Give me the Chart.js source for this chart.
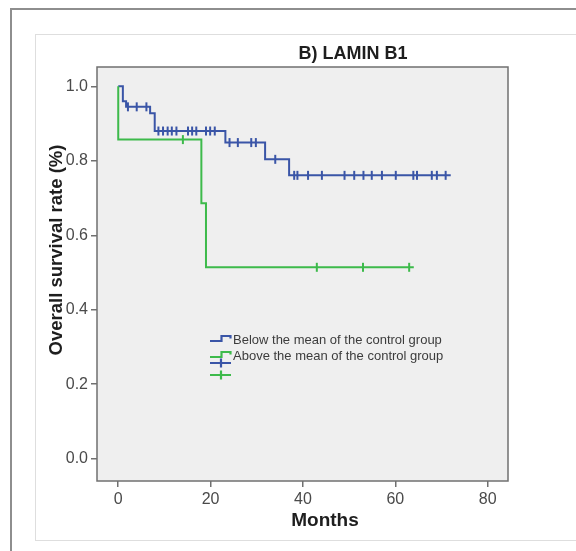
<!DOCTYPE html>
<html>
<head>
<meta charset="utf-8">
<script src="https://cdn.jsdelivr.net/npm/chart.js@4.4.1/dist/chart.umd.min.js"></script>
<style>
html,body{margin:0;padding:0;background:#fff;overflow:hidden}
#frame{position:absolute;left:10px;top:8px;width:700px;height:700px;border-left:2px solid #8e8e8e;border-top:2px solid #8e8e8e}
#panel{position:absolute;left:35px;top:34px;width:700px;height:505px;border:1px solid #dedede;background:#fff}
canvas{position:absolute;left:0;top:0}
</style>
</head>
<body>
<div id="frame"></div>
<div id="panel"></div>
<canvas id="km" width="576" height="551"></canvas>
<script>
// chart texts
const chartTitle = 'B) LAMIN B1';
const xTitle = 'Months';
const yTitle = 'Overall survival rate (%)';
const groupNames = ['Below the mean of the control group', 'Above the mean of the control group'];
const xTicks = [0, 20, 40, 60, 80];
const yTicks = [0, 0.2, 0.4, 0.6, 0.8, 1.0];

// Kaplan-Meier steps (time in months, survival)
const belowTimes = [0, 1, 1.7, 6.9, 7.9, 23.2, 31.8, 37, 72];
const belowSurv  = [1.0, 0.96, 0.945, 0.928, 0.88, 0.849, 0.804, 0.761, 0.761];
const belowCensored = [2.1, 4.0, 6.1, 8.7, 9.7, 10.7, 11.6, 12.6, 15.1, 16.0, 16.9, 19.0, 19.9, 20.9,
  24.1, 25.9, 28.8, 29.8, 34.0, 38.1, 38.8, 41.1, 44.1, 49.0, 51.1, 53.1, 54.9, 57.1, 60.1,
  63.9, 64.7, 67.9, 69.0, 70.9];

const aboveTimes = [0, 0, 18, 19, 64];
const aboveSurv  = [1.0, 0.857, 0.686, 0.514, 0.514];
const aboveCensored = [14.0, 43.0, 53.0, 63.0];

const C = {blue:'#3a55a7', green:'#3dba4b', plot:'#efefef', axis:'#707070', tick:'#4a4a4a', text:'#1e1e1e', leg:'#3c3c3c'};
const FONT = "'Liberation Sans', Arial, sans-serif";

function survAt(T, S, t){
  let s = S[0];
  for(let i=0;i<T.length;i++){ if(T[i] <= t) s = S[i]; }
  return s;
}
const pts = (T,S)=>T.map((t,i)=>({x:t, y:S[i]}));
const cens = (c,T,S)=>c.map(t=>({x:t, y:survAt(T,S,t)}));

const curve = (data,color)=>({data, showLine:true, stepped:true, borderColor:color, borderWidth:2,
  pointRadius:0, fill:false, borderCapStyle:'butt', borderJoinStyle:'miter'});
const marks = (data,color)=>({data, showLine:false, pointStyle:'line', rotation:90, pointRadius:4.5,
  pointBorderWidth:2, pointBorderColor:color, borderColor:color, pointHoverRadius:4.5});

// plot panel background + frame
const plotFrame = {
  id:'plotFrame',
  beforeDraw(ch){
    const a = ch.chartArea, c = ch.ctx;
    c.save(); c.fillStyle = C.plot; c.fillRect(a.left, a.top, a.right-a.left, a.bottom-a.top); c.restore();
  },
  afterDatasetsDraw(ch){
    const a = ch.chartArea, c = ch.ctx;
    c.save(); c.strokeStyle = C.axis; c.lineWidth = 1.5;
    c.strokeRect(a.left, a.top, a.right-a.left, a.bottom-a.top); c.restore();
  }
};

// titles and the SPSS style legend
const texts = {
  id:'texts',
  afterDraw(ch){
    const c = ch.ctx, a = ch.chartArea;
    c.save();
    c.fillStyle = C.text;
    c.font = "bold 18px " + FONT;
    c.textAlign = 'center'; c.textBaseline = 'alphabetic';
    c.fillText(chartTitle, 353, 59);
    c.font = "bold 19px " + FONT;
    c.fillText(xTitle, 325, 526);
    c.save();
    c.translate(62, 250); c.rotate(-Math.PI/2);
    c.font = "bold 18.5px " + FONT;
    c.fillText(yTitle, 0, 0);
    c.restore();

    // legend
    const lx = a.left + 113, ly = 340;
    const step = (y,col)=>{
      c.strokeStyle = col; c.lineWidth = 2.2; c.beginPath();
      c.moveTo(lx, y+1); c.lineTo(lx+11.5, y+1); c.lineTo(lx+11.5, y-4); c.lineTo(lx+20.5, y-4); c.lineTo(lx+20.5, y-1.5);
      c.stroke();
    };
    const plus = (y,col)=>{
      c.strokeStyle = col; c.lineWidth = 2.2; c.beginPath();
      c.moveTo(lx, y); c.lineTo(lx+21, y); c.moveTo(lx+11, y-4.5); c.lineTo(lx+11, y+4.5); c.stroke();
    };
    step(ly, C.blue); step(ly+16, C.green);
    plus(ly+23, C.blue); plus(ly+35, C.green);
    c.fillStyle = C.leg; c.font = "13px " + FONT; c.textAlign = 'left'; c.textBaseline = 'middle';
    c.fillText(groupNames[0], lx+23, ly);
    c.fillText(groupNames[1], lx+23, ly+16);
    c.restore();
  }
};

const axisCommon = {
  grid:{drawOnChartArea:false, drawTicks:true, tickLength:6, color:C.axis, lineWidth:1.5},
  border:{display:false},
  title:{display:false}
};

new Chart(document.getElementById('km'), {
  type:'scatter',
  data:{
    datasets:[
      curve(pts(aboveTimes, aboveSurv), C.green),
      curve(pts(belowTimes, belowSurv), C.blue),
      marks(cens(belowCensored, belowTimes, belowSurv), C.blue),
      marks(cens(aboveCensored, aboveTimes, aboveSurv), C.green)
    ]
  },
  options:{
    responsive:false, animation:false,
    layout:{padding:{left:0, right:68, top:67, bottom:0}},
    plugins:{legend:{display:false}, tooltip:{enabled:false}},
    scales:{
      x:{
        ...axisCommon, type:'linear', min:-4.6, max:84.4,
        afterBuildTicks:s=>{ s.ticks = xTicks.map(v=>({value:v})); },
        afterFit:s=>{ s.height = 70; },
        ticks:{font:{family:FONT, size:16}, color:C.tick, padding:3, maxRotation:0, callback:v=>String(v)}
      },
      y:{
        ...axisCommon, type:'linear', min:-0.06, max:1.052,
        afterBuildTicks:s=>{ s.ticks = yTicks.map(v=>({value:v})); },
        afterFit:s=>{ s.width = 97; },
        ticks:{font:{family:FONT, size:16}, color:C.tick, padding:3, callback:v=>v.toFixed(1)}
      }
    }
  },
  plugins:[plotFrame, texts]
});
</script>
</body>
</html>
